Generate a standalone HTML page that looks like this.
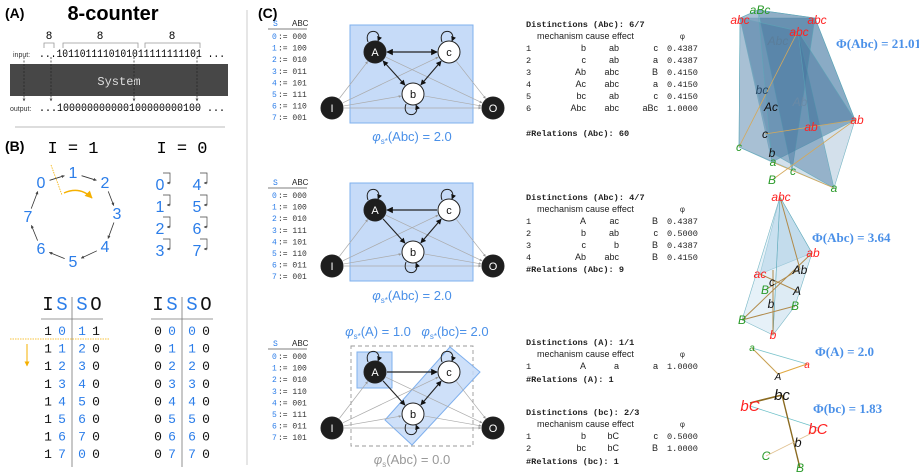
<!DOCTYPE html>
<html><head><meta charset="utf-8"><style>
body{margin:0;background:#fff;}
svg{display:block;}
.m{font-family:"Liberation Mono","DejaVu Sans Mono",monospace;}
.s{font-family:"Liberation Sans","DejaVu Sans",sans-serif;}
.sf{font-family:"Liberation Serif",serif;}
</style></head><body>
<svg id="fig" width="919" height="473" viewBox="0 0 919 473" xmlns="http://www.w3.org/2000/svg">
<defs>
<marker id="ah" viewBox="0 0 10 10" refX="9" refY="5" markerWidth="5" markerHeight="5" orient="auto-start-reverse"><path d="M0,0L10,5L0,10z" fill="#111"/></marker>
<marker id="ahg" viewBox="0 0 10 10" refX="9" refY="5" markerWidth="4" markerHeight="4" orient="auto"><path d="M0,0L10,5L0,10z" fill="#999"/></marker>
<marker id="ahs" viewBox="0 0 10 10" refX="9" refY="5" markerWidth="4" markerHeight="4" orient="auto"><path d="M0,0L10,5L0,10z" fill="#444"/></marker>
<marker id="ahy" viewBox="0 0 10 10" refX="9" refY="5" markerWidth="5" markerHeight="5" orient="auto"><path d="M0,0L10,5L0,10z" fill="#f5b000"/></marker>
</defs>

<g>
<text x="5" y="18" class="s" font-size="14" font-weight="bold">(A)</text>
<text x="113" y="20" class="s" font-size="20" font-weight="bold" text-anchor="middle">8-counter</text>
<g stroke="#999" fill="none" stroke-width="0.8">
<path d="M44,48V43H54V48"/><path d="M63,48V43H138V48"/><path d="M145,48V43H200V48"/>
</g>
<text x="49" y="39" class="m" font-size="11" text-anchor="middle">8</text>
<text x="100" y="39" class="m" font-size="11" text-anchor="middle">8</text>
<text x="172" y="39" class="m" font-size="11" text-anchor="middle">8</text>
<text x="13" y="57" class="s" font-size="7" fill="#333">input:</text>
<text x="39" y="57" class="m" font-size="11" textLength="186" lengthAdjust="spacingAndGlyphs">...1011011110101011111111101 ...</text>
<rect x="10" y="64" width="218" height="32" fill="#474747"/>
<text x="119" y="85" class="m" font-size="12" fill="#ddd" text-anchor="middle">System</text>
<g stroke="#222" stroke-dasharray="2,1.5" stroke-width="0.7">
<line x1="24" y1="57" x2="24" y2="101" marker-end="url(#ahs)"/><line x1="51" y1="57" x2="51" y2="101" marker-end="url(#ahs)"/><line x1="134" y1="57" x2="134" y2="101" marker-end="url(#ahs)"/><line x1="197" y1="57" x2="197" y2="101" marker-end="url(#ahs)"/>
</g>
<text x="10" y="111" class="s" font-size="7" fill="#333">output:</text>
<text x="39" y="111" class="m" font-size="11" textLength="186" lengthAdjust="spacingAndGlyphs">...100000000000100000000100 ...</text>
<line x1="15" y1="127" x2="225" y2="127" stroke="#bbb" stroke-width="1"/>
</g>

<g>
<text x="5" y="151" class="s" font-size="14" font-weight="bold">(B)</text>
<text x="73" y="153" class="m" font-size="17" text-anchor="middle">I = 1</text>
<text x="182" y="153" class="m" font-size="17" text-anchor="middle">I = 0</text>
<g id="cycle" class="s" font-size="16" fill="#2b7de9" text-anchor="middle"></g>
<g id="cyclearrows" stroke="#333" stroke-width="0.8" fill="none"></g>
<line x1="51" y1="165" x2="62" y2="195" stroke="#f5b000" stroke-width="0.8" stroke-dasharray="1.5,1"/>
<path d="M64,193 Q80,186 92,198" stroke="#f5b000" stroke-width="1.5" fill="none" marker-end="url(#ahy)"/>
<g id="fixed" class="s" font-size="16" fill="#2b7de9" text-anchor="middle"></g>
<g id="tables" class="m"></g>
<line x1="10" y1="339" x2="110" y2="339" stroke="#f5b000" stroke-width="0.8" stroke-dasharray="1.5,1"/>
<line x1="27" y1="344" x2="27" y2="366" stroke="#f5b000" stroke-width="1" marker-end="url(#ahy)"/>
</g>

<line x1="247" y1="10" x2="247" y2="465" stroke="#ccc" stroke-width="1"/>

<text x="258" y="18" class="s" font-size="14" font-weight="bold">(C)</text>
<g id="statetables" class="m" font-size="8"></g>
<g id="nets"></g>
<g id="dist" class="m" font-size="8.6" fill="#222"></g>
<g id="graphs"></g>
</svg>
<script>
var NS="http://www.w3.org/2000/svg";
function mk(p,tag,at,txt){var e=document.createElementNS(NS,tag);for(var k in at)e.setAttribute(k,at[k]);if(txt!==undefined)e.textContent=txt;p.appendChild(e);return e;}
function $(id){return document.getElementById(id);}

var cyc=[[41,188],[73,178],[105,188],[117,219],[105,252],[73,267],[41,254],[28,222]];
var cg=$('cycle');
cyc.forEach(function(p,i){var t=mk(cg,'text',{x:p[0],y:p[1]},String(i));

});
var ca=$('cyclearrows');
for(var i=0;i<8;i++){var a=cyc[i],b=cyc[(i+1)%8];var dx=b[0]-a[0],dy=b[1]-a[1];var L=Math.hypot(dx,dy);var ux=dx/L,uy=dy/L;
var l=mk(ca,'line',{x1:a[0]+ux*9,y1:a[1]-5+uy*9,x2:b[0]-ux*9,y2:b[1]-5-uy*9,'marker-end':'url(#ahs)'});

}
var fx=$('fixed');
for(var i=0;i<8;i++){var x=i<4?160:197,y=190+(i%4)*22;var t=mk(fx,'text',{x:x,y:y},String(i));


var p=mk(fx,'path',{d:'M'+(x+3)+','+(y-17)+'h7v10h-3',stroke:'#444','stroke-width':0.7,fill:'none','marker-end':'url(#ahs)'});

}

var tabI1=[[1,0,1,1],[1,1,2,0],[1,2,3,0],[1,3,4,0],[1,4,5,0],[1,5,6,0],[1,6,7,0],[1,7,0,0]];
var tabI0=[[0,0,0,0],[0,1,1,0],[0,2,2,0],[0,3,3,0],[0,4,4,0],[0,5,5,0],[0,6,6,0],[0,7,7,0]];
var tg=$('tables');
[[tabI1,42],[tabI0,152]].forEach(function(T,ti){var x0=T[1];var g=mk(tg,'g',{});


var hx=[x0+6,x0+20,x0+40,x0+54],hc=['#111','#2b7de9','#2b7de9','#111'],hl=['I','S','S','O'];
for(var k=0;k<4;k++)mk(g,'text',{x:hx[k],y:310,'font-size':19,'text-anchor':'middle',fill:hc[k]},hl[k]);
mk(g,'line',{x1:x0-1,y1:319,x2:x0+61,y2:319,stroke:'#999','stroke-width':1});
mk(g,'line',{x1:x0+30,y1:297,x2:x0+30,y2:467,stroke:'#777','stroke-width':0.8});
T[0].forEach(function(r,ri){var y=335+ri*17.6;var rx=[x0+6,x0+20,x0+40,x0+54];
for(var k=0;k<4;k++)mk(g,'text',{x:rx[k],y:y,'font-size':13,'text-anchor':'middle',fill:hc[k]},String(r[k]));});});

var enc1=['000','100','010','011','101','111','110','001'];
var enc2=['000','100','010','111','101','110','011','001'];
var enc3=['000','100','010','110','001','111','011','101'];
var sg=$('statetables');
[[enc1,26],[enc2,185],[enc3,346]].forEach(function(E,ei){var y0=E[1];var g=mk(sg,'g',{});


mk(g,'text',{x:273,y:y0,fill:'#2b7de9','font-size':8},'S');
mk(g,'text',{x:292,y:y0,fill:'#222','font-size':8,'font-family':'Liberation Sans'},'ABC');
mk(g,'line',{x1:268,y1:y0+3,x2:307,y2:y0+3,stroke:'#555','stroke-width':0.8});
E[0].forEach(function(c,i){var y=y0+13+i*11.6;mk(g,'text',{x:272,y:y,fill:'#2b7de9'},String(i));
mk(g,'text',{x:278,y:y,fill:'#333'},':= '+c);});});

var ng=$('nets');
function net(oy,row){var g=mk(ng,'g',{});


var A=[375,52+oy],C=[449,52+oy],B=[413,94+oy],I=[332,108+oy],O=[493,108+oy];
if(row<3){var r=mk(g,'rect',{x:350,y:25+oy,width:123,height:98,fill:'#c6dbf8',stroke:'#7fb0ee','stroke-width':1});

}
else{var r=mk(g,'rect',{x:351,y:26+oy,width:122,height:100,fill:'none',stroke:'#999','stroke-dasharray':'4,3','stroke-width':0.9});


var r2=mk(g,'rect',{x:357,y:32+oy,width:35,height:36,fill:'#c6dbf8',stroke:'#7fb0ee'});


var r3=mk(g,'polygon',{points:'385,'+(100+oy)+' 450,'+(27+oy)+' 480,'+(52+oy)+' 412,'+(125+oy),fill:'#c6dbf8','fill-opacity':0.85,stroke:'#7fb0ee'});

}
function ln(p,q,mk1,col,w,both){var dx=q[0]-p[0],dy=q[1]-p[1],L=Math.hypot(dx,dy),ux=dx/L,uy=dy/L;
var at={x1:p[0]+ux*12,y1:p[1]+uy*12,x2:q[0]-ux*12,y2:q[1]-uy*12,stroke:col,'stroke-width':w,'marker-end':'url(#'+mk1+')'};
if(both)at['marker-start']='url(#'+mk1+')';var l=mk(g,'line',at);

}
[[I,A],[I,C],[I,B],[I,O],[A,O],[C,O],[B,O]].forEach(function(e){ln(e[0],e[1],'ahg','#aaa',0.7);});
if(row==1){ln(A,C,'ah','#222',1.3,true);ln(A,B,'ah','#222',1.1,true);ln(C,B,'ah','#222',1.1,true);}
if(row==2){ln(C,A,'ah','#222',1.3);ln(A,B,'ah','#222',1.1);ln(C,B,'ah','#222',1.1,true);}
if(row==3){ln(A,C,'ah','#222',1.3);ln(A,B,'ah','#222',1.1);ln(C,B,'ah','#222',1.1,true);}
function loop(p,down){var s=down?1:-1;var x=p[0],y=p[1]+s*10;
mk(g,'path',{d:'M'+(x-7)+','+y+' C'+(x-12)+','+(y+s*14)+' '+(x+8)+','+(y+s*14)+' '+(x+3)+','+(y+s*1),stroke:'#222','stroke-width':1,fill:'none','marker-end':'url(#ah)'});}
loop(A,false);loop(C,false);loop(B,true);
[[A,'A',1],[C,'c',0],[B,'b',0],[I,'I',1],[O,'O',1]].forEach(function(n){
var c=mk(g,'circle',{cx:n[0][0],cy:n[0][1],r:11,fill:n[2]?'#1e1e1e':'#fff',stroke:'#222','stroke-width':1});


mk(g,'text',{x:n[0][0],y:n[0][1]+4,'text-anchor':'middle','font-size':11,fill:n[2]?'#fff':'#111','font-family':'Liberation Sans'},n[1]);});
}
net(0,1);net(158,2);net(320,3);
function lab(x,y,txt,col,nm,sub){var t=mk(ng,'text',{x:x,y:y,'text-anchor':'middle','font-size':13,fill:col,'font-family':'Liberation Sans'});


mk(t,'tspan',{'font-style':'italic'},'φ');mk(t,'tspan',{'font-size':8,dy:3},sub);mk(t,'tspan',{dy:-3},txt);}
lab(412,141,'(Abc) = 2.0','#4a90e8','phi-label-1','s*');
lab(412,300,'(Abc) = 2.0','#4a90e8','phi-label-2','s*');
lab(378,336,'(A) = 1.0','#4a90e8','phi-label-a','s*');
lab(455,336,'(bc)= 2.0','#4a90e8','phi-label-bc','s*');
lab(412,464,'(Abc) = 0.0','#999','phi-label-abc-0','s');

var d1=[['1','b','ab','c','0.4387'],['2','c','ab','a','0.4387'],['3','Ab','abc','B','0.4150'],['4','Ac','abc','a','0.4150'],['5','bc','ab','c','0.4150'],['6','Abc','abc','aBc','1.0000']];
var d2=[['1','A','ac','B','0.4387'],['2','b','ab','c','0.5000'],['3','c','b','B','0.4387'],['4','Ab','abc','B','0.4150']];
var d3=[['1','A','a','a','1.0000']];
var d4=[['1','b','bC','c','0.5000'],['2','bc','bC','B','1.0000']];
var dg=$('dist');
function dblock(y,title,rows,rel,ry,nm){var g=mk(dg,'g',{});


mk(g,'text',{x:526,y:y,'font-weight':'bold'},title);
mk(g,'text',{x:537,y:y+12,'font-family':'Liberation Sans','font-size':9},'mechanism cause effect');
mk(g,'text',{x:680,y:y+12,'font-size':8},'φ');
rows.forEach(function(r,i){var yy=y+24+i*12;mk(g,'text',{x:526,y:yy},r[0]);
mk(g,'text',{x:586,y:yy,'text-anchor':'end','font-family':'Liberation Sans','font-size':9},r[1]);
mk(g,'text',{x:619,y:yy,'text-anchor':'end','font-family':'Liberation Sans','font-size':9},r[2]);
mk(g,'text',{x:658,y:yy,'text-anchor':'end','font-family':'Liberation Sans','font-size':9},r[3]);
mk(g,'text',{x:667,y:yy},r[4]);});
mk(g,'text',{x:526,y:ry,'font-weight':'bold'},rel);}
dblock(27,'Distinctions (Abc): 6/7',d1,'#Relations (Abc): 60',136,'distinctions-abc-1');
dblock(200,'Distinctions (Abc): 4/7',d2,'#Relations (Abc): 9',272,'distinctions-abc-2');
dblock(345,'Distinctions (A): 1/1',d3,'#Relations (A): 1',382,'distinctions-a');
dblock(415,'Distinctions (bc): 2/3',d4,'#Relations (bc): 1',464,'distinctions-bc');

var gg=$('graphs');
function poly(g,pts,fill,op){var p=mk(g,'polygon',{points:pts,fill:fill,'fill-opacity':op,stroke:'#5aa7b8','stroke-width':0.6,'stroke-opacity':0.8});

}
function lbl(g,x,y,t,col,fs){var e=mk(g,'text',{x:x,y:y,'text-anchor':'middle','font-size':fs||12,fill:col,'font-style':'italic','font-family':'Liberation Sans'},t);

}
var R='#ff2222',G='#2a9a2a',K='#111';
var g1=mk(gg,'g',{});


poly(g1,'740,18 758,10 815,18 855,120 834,188 739,147','#c8d8e6',0.8);
poly(g1,'740,18 815,18 855,120 772,162','#4e7fa6',0.55);
poly(g1,'758,10 815,18 792,171','#3f709a',0.45);
poly(g1,'740,18 798,31 834,188 772,153','#4a7aa2',0.45);
poly(g1,'740,18 758,10 772,162 739,147','#7ea0bd',0.5);
poly(g1,'798,31 855,120 810,127','#3d6f99',0.4);
[[739,147,798,31],[772,180,855,120],[765,134,855,120],[772,162,834,188]].forEach(function(l){mk(g1,'line',{x1:l[0],y1:l[1],x2:l[2],y2:l[3],stroke:'#d4a85a','stroke-width':0.8});});
lbl(g1,740,24,'abc',R);lbl(g1,760,14,'aBc',G);lbl(g1,817,24,'abc',R);lbl(g1,799,36,'abc',R);
lbl(g1,778,45,'Abc','#5a7d9a');lbl(g1,762,94,'bc','#2a4a66');lbl(g1,771,111,'Ac',K);lbl(g1,800,106,'Ab','#6a8aa6');
lbl(g1,857,124,'ab',R);lbl(g1,811,131,'ab',R);lbl(g1,765,138,'c',K);lbl(g1,739,151,'c',G);lbl(g1,772,157,'b',K);
lbl(g1,773,166,'a',G);lbl(g1,793,175,'c',G);lbl(g1,772,184,'B',G);lbl(g1,834,192,'a',G);
var p1=mk(g1,'text',{x:836,y:48,'font-size':13,'font-weight':'bold',fill:'#4a90e8','font-family':'Liberation Serif'},'Φ(Abc) = 21.01');



var g2=mk(gg,'g',{});


poly(g2,'780,197 812,253 760,274','#a9cbe3',0.6);
poly(g2,'780,197 812,253 795,306 773,335','#bcd8ea',0.5);
poly(g2,'780,197 742,320 773,335','#c8e0ef',0.45);
[[780,197,800,269],[760,274,797,291],[812,253,742,320],[795,306,742,320],[800,269,765,290],[773,270,773,335]].forEach(function(l){mk(g2,'line',{x1:l[0],y1:l[1],x2:l[2],y2:l[3],stroke:'#b08a4a','stroke-width':1});});
lbl(g2,781,201,'abc',R);lbl(g2,813,257,'ab',R);lbl(g2,800,274,'Ab',K);lbl(g2,760,278,'ac',R);lbl(g2,772,286,'c',K);
lbl(g2,765,294,'B',G);lbl(g2,797,295,'A',K);lbl(g2,771,308,'b',K);lbl(g2,795,310,'B',G);lbl(g2,742,324,'B',G);lbl(g2,773,339,'b',R);
var p2=mk(g2,'text',{x:812,y:242,'font-size':13,'font-weight':'bold',fill:'#4a90e8','font-family':'Liberation Serif'},'Φ(Abc) =  3.64');



var g3=mk(gg,'g',{});


mk(g3,'line',{x1:752,y1:348,x2:807,y2:364,stroke:'#7cc4cc','stroke-width':0.8});
mk(g3,'line',{x1:752,y1:348,x2:778,y2:374,stroke:'#c8a050','stroke-width':1});
mk(g3,'line',{x1:807,y1:364,x2:778,y2:374,stroke:'#e0a840','stroke-width':1});
lbl(g3,752,351,'a',G,10);lbl(g3,807,368,'a',R,10);lbl(g3,778,380,'A',K,10);
var p3=mk(g3,'text',{x:815,y:356,'font-size':13,'font-weight':'bold',fill:'#4a90e8','font-family':'Liberation Serif'},'Φ(A) = 2.0');



var g4=mk(gg,'g',{});


mk(g4,'line',{x1:750,y1:406,x2:818,y2:428,stroke:'#6cc0c8','stroke-width':0.8});
mk(g4,'line',{x1:750,y1:403,x2:782,y2:395,stroke:'#8a6a20','stroke-width':1.6});
mk(g4,'line',{x1:782,y1:395,x2:800,y2:468,stroke:'#8a6a20','stroke-width':1.4});
mk(g4,'line',{x1:766,y1:456,x2:818,y2:430,stroke:'#e0c090','stroke-width':0.9});
lbl(g4,782,400,'bc',K,15);lbl(g4,750,411,'bC',R,15);lbl(g4,818,434,'bC',R,15);lbl(g4,798,447,'b',K,13);
lbl(g4,766,460,'C',G,12);lbl(g4,800,472,'B',G,12);
var p4=mk(g4,'text',{x:813,y:413,'font-size':13,'font-weight':'bold',fill:'#4a90e8','font-family':'Liberation Serif'},'Φ(bc) = 1.83');


</script>
</body></html>
